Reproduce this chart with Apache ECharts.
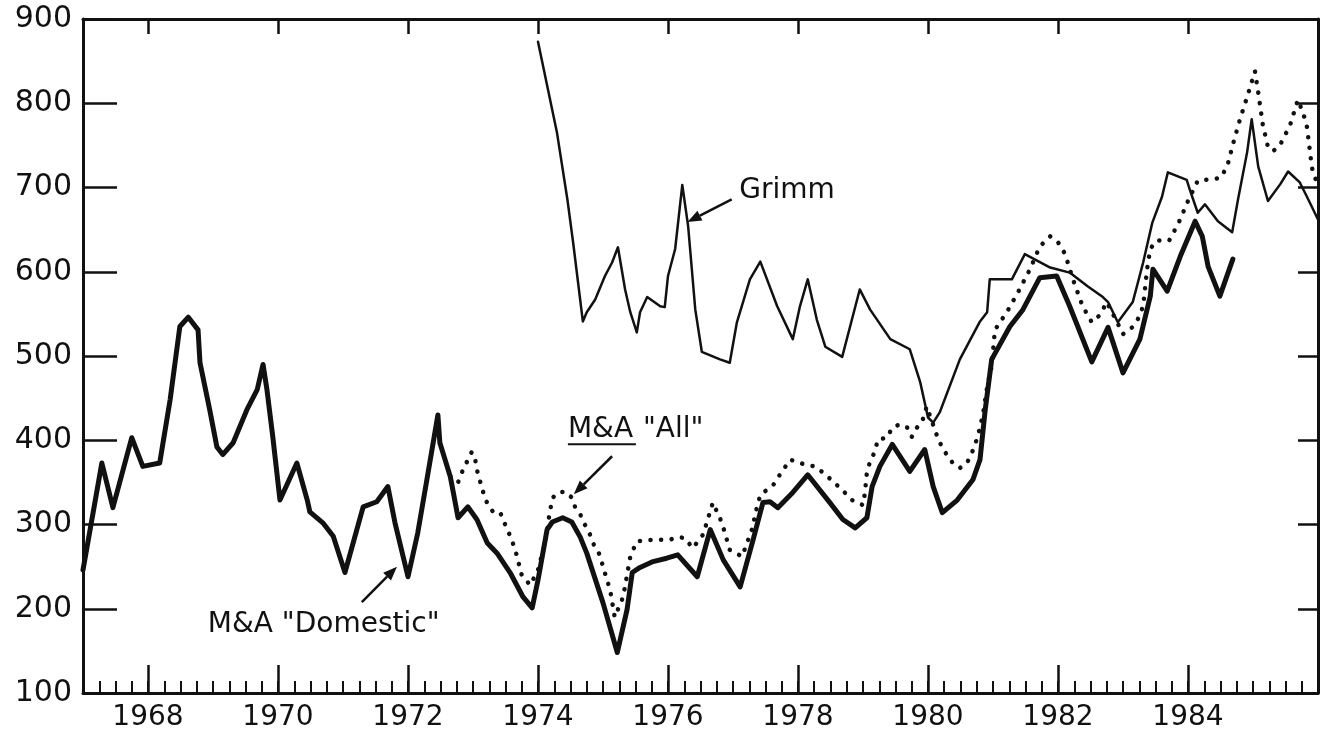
<!DOCTYPE html>
<html>
<head>
<meta charset="utf-8">
<script src="https://cdn.jsdelivr.net/npm/echarts@6/dist/echarts.min.js"></script>
<style>
html,body{margin:0;padding:0;background:#fff;}
#c{width:1321px;height:735px;}
</style>
</head>
<body>
<div id="c"></div>
<script>
// ---- data (year, value) ----
const yearLabels = [1968, 1970, 1972, 1974, 1976, 1978, 1980, 1982, 1984];
const yTicks = [100, 200, 300, 400, 500, 600, 700, 800, 900];

const domestic = [
  [1967.00,246],[1967.29,373],[1967.46,320],[1967.75,403],[1967.92,369],[1968.18,373],
  [1968.34,448],[1968.49,535],[1968.62,546],[1968.77,531],[1968.80,492],[1968.95,436],
  [1969.06,392],[1969.15,383],[1969.31,397],[1969.52,436],[1969.68,460],[1969.77,490],
  [1969.83,460],[1969.92,404],[1970.03,329],[1970.29,373],[1970.45,329],[1970.49,315],
  [1970.69,302],[1970.85,286],[1971.03,243],[1971.31,321],[1971.52,327],[1971.69,345],
  [1971.80,302],[1972.00,238],[1972.15,290],[1972.29,353],[1972.46,430],[1972.49,397],
  [1972.65,357],[1972.68,345],[1972.77,308],[1972.92,321],[1973.06,306],[1973.22,278],
  [1973.37,266],[1973.57,243],[1973.77,214],[1973.91,201],[1974.00,234],[1974.14,294],
  [1974.22,303],[1974.38,308],[1974.52,303],[1974.65,285],[1974.75,266],[1975.00,207],
  [1975.22,148],[1975.37,199],[1975.45,243],[1975.57,249],[1975.77,256],[1975.98,260],
  [1976.15,264],[1976.45,238],[1976.65,294],[1976.85,258],[1977.11,226],[1977.31,282],
  [1977.46,326],[1977.57,327],[1977.69,320],[1977.92,338],[1978.15,359],[1978.49,326],
  [1978.69,306],[1978.88,296],[1979.06,308],[1979.14,345],[1979.26,369],[1979.45,395],
  [1979.72,363],[1979.95,389],[1980.08,345],[1980.22,314],[1980.45,329],[1980.69,353],
  [1980.80,377],[1980.88,436],[1980.98,496],[1981.26,535],[1981.46,555],[1981.72,593],
  [1981.98,595],[1982.18,559],[1982.52,493],[1982.77,534],[1983.00,480],[1983.26,520],
  [1983.42,571],[1983.46,603],[1983.68,577],[1983.88,618],[1984.11,660],[1984.22,642],
  [1984.31,606],[1984.49,571],[1984.69,615]
];

const allMA = [
  [1972.65,357],[1972.77,350],[1972.83,362],[1972.91,375],[1972.98,386],[1973.03,379],
  [1973.06,365],[1973.11,351],[1973.17,335],[1973.23,323],[1973.32,314],[1973.42,314],
  [1973.51,297],[1973.58,285],[1973.65,270],[1973.75,240],[1973.88,228],[1974.00,246],
  [1974.06,264],[1974.11,278],[1974.15,297],[1974.18,315],[1974.23,332],[1974.31,338],
  [1974.42,339],[1974.52,332],[1974.57,321],[1974.65,312],[1974.72,300],[1974.80,288],
  [1974.86,276],[1974.95,264],[1975.00,250],[1975.11,222],[1975.18,190],[1975.31,214],
  [1975.42,262],[1975.52,280],[1975.77,282],[1976.03,282],[1976.15,285],[1976.26,284],
  [1976.38,272],[1976.54,288],[1976.69,326],[1976.83,302],[1976.95,270],[1977.14,262],
  [1977.29,294],[1977.37,321],[1977.42,335],[1977.62,347],[1977.72,359],[1977.88,377],
  [1978.11,371],[1978.26,369],[1978.38,362],[1978.54,351],[1978.68,341],[1978.83,329],
  [1979.00,323],[1979.03,338],[1979.06,362],[1979.11,375],[1979.18,386],[1979.23,401],
  [1979.37,403],[1979.45,415],[1979.57,419],[1979.68,415],[1979.75,404],[1979.83,415],
  [1979.91,422],[1979.98,440],[1980.14,405],[1980.23,389],[1980.31,381],[1980.38,373],
  [1980.49,367],[1980.60,373],[1980.68,386],[1980.75,401],[1980.80,415],[1980.85,433],
  [1980.91,463],[1980.98,488],[1981.03,531],[1981.22,553],[1981.38,575],[1981.57,603],
  [1981.72,630],[1981.88,642],[1982.00,635],[1982.11,621],[1982.23,591],[1982.38,559],
  [1982.52,540],[1982.65,549],[1982.75,564],[1982.91,540],[1983.00,526],[1983.14,534],
  [1983.23,544],[1983.31,559],[1983.37,603],[1983.42,627],[1983.51,637],[1983.71,637],
  [1983.78,647],[1983.88,662],[1984.00,684],[1984.15,708],[1984.49,711],[1984.60,724],
  [1984.69,751],[1984.80,781],[1984.92,810],[1985.03,838],[1985.08,813],[1985.15,775],
  [1985.23,748],[1985.31,743],[1985.42,751],[1985.57,774],[1985.69,804],[1985.77,789],
  [1985.83,772],[1985.89,734],[1985.92,718],[1985.98,707]
];

const grimm = [
  [1974.00,873],[1974.29,766],[1974.45,687],[1974.54,635],[1974.69,541],[1974.75,552],
  [1974.88,567],[1975.03,595],[1975.14,611],[1975.23,629],[1975.34,579],[1975.42,552],
  [1975.52,528],[1975.57,552],[1975.68,570],[1975.88,559],[1975.95,558],[1976.00,595],
  [1976.11,627],[1976.22,703],[1976.31,654],[1976.34,627],[1976.42,555],[1976.52,505],
  [1976.80,496],[1976.95,492],[1977.06,540],[1977.26,591],[1977.42,612],[1977.68,559],
  [1977.92,520],[1978.03,559],[1978.15,591],[1978.29,543],[1978.42,511],[1978.68,499],
  [1978.95,579],[1979.11,555],[1979.42,520],[1979.72,508],[1979.88,469],[1980.00,427],
  [1980.08,421],[1980.18,433],[1980.49,496],[1980.80,541],[1980.91,552],[1980.95,591],
  [1981.29,591],[1981.49,621],[1981.88,605],[1982.18,599],[1982.45,583],[1982.69,570],
  [1982.77,564],[1982.92,540],[1983.15,564],[1983.31,611],[1983.45,658],[1983.60,689],
  [1983.69,718],[1983.98,709],[1984.03,697],[1984.15,670],[1984.26,680],[1984.46,660],
  [1984.68,647],[1984.77,686],[1984.91,742],[1984.98,781],[1985.08,725],[1985.23,684],
  [1985.42,704],[1985.54,719],[1985.72,706],[1985.83,689],[1986.00,662]
];

// annotation anchors in data coordinates
const annGrimm = {text:'Grimm', at:[1977.83, 696], from:[1976.98, 686], to:[1976.30, 659]};
const annAll = {text:'"All"', lead:'M&A', at:[1974.46, 413], from:[1975.14, 381], to:[1974.55, 336]};
const annDom = {text:'M&A "Domestic"', at:[1968.92, 181], from:[1971.29, 208], to:[1971.83, 250]};

// ---- chart ----
const FONT = '"DejaVu Sans", sans-serif';
const INK = '#111';
const chart = echarts.init(document.getElementById('c'), null, {renderer:'canvas'});

const axisCommon = {type:'value', min:1967, max:1986, splitLine:{show:false}};
const option = {
  backgroundColor:'#fff',
  animation:false,
  grid:{left:83, right:3, top:19, bottom:42, containLabel:false},
  xAxis:[
    Object.assign({}, axisCommon, {
      position:'bottom', interval:0.25,
      axisLine:{show:true, onZero:false, lineStyle:{color:INK, width:3}},
      axisTick:{show:true, inside:true, length:12, lineStyle:{color:INK, width:2}},
      axisLabel:{show:true, customValues:yearLabels, color:INK, fontFamily:FONT, fontSize:28, margin:11,
        formatter:v=>String(Math.round(v))}
    }),
    Object.assign({}, axisCommon, {
      position:'bottom',
      axisLine:{show:false, onZero:false},
      axisTick:{show:true, inside:true, length:28, customValues:yearLabels, lineStyle:{color:INK, width:2.5}},
      axisLabel:{show:false}
    }),
    Object.assign({}, axisCommon, {
      position:'top',
      axisLine:{show:true, onZero:false, lineStyle:{color:INK, width:3}},
      axisTick:{show:true, inside:true, length:15, customValues:yearLabels, lineStyle:{color:INK, width:2.5}},
      axisLabel:{show:false}
    })
  ],
  yAxis:[
    {type:'value', position:'left', min:100, max:900, interval:100, splitLine:{show:false},
     axisLine:{show:true, onZero:false, lineStyle:{color:INK, width:3}},
     axisTick:{show:true, inside:true, length:34, lineStyle:{color:INK, width:2.5}},
     axisLabel:{show:true, customValues:yTicks, color:INK, fontFamily:FONT, fontSize:30, margin:11}},
    {type:'value', position:'right', min:100, max:900, interval:100, splitLine:{show:false},
     axisLine:{show:true, onZero:false, lineStyle:{color:INK, width:3}},
     axisTick:{show:true, inside:true, length:20, lineStyle:{color:INK, width:2.5}},
     axisLabel:{show:false}}
  ],
  series:[
    {name:'M&A "All"', type:'line', data:allMA, xAxisIndex:0, yAxisIndex:0, showSymbol:false, z:3,
     lineStyle:{color:INK, width:4.5, type:[0.1, 10.5], cap:'round', join:'round'}},
    {name:'Grimm', type:'line', data:grimm, xAxisIndex:0, yAxisIndex:0, showSymbol:false, z:4,
     lineStyle:{color:INK, width:2.5, join:'round', cap:'round'}},
    {name:'M&A "Domestic"', type:'line', data:domestic, xAxisIndex:0, yAxisIndex:0, showSymbol:false, z:5,
     lineStyle:{color:INK, width:5, join:'round', cap:'round'}}
  ]
};
chart.setOption(option);

// ---- annotations (text + arrows), placed through the axes' own scales ----
function px(p){ return chart.convertToPixel({xAxisIndex:0, yAxisIndex:0}, p); }
function arrow(fromD, toD){
  const a = px(fromD), b = px(toD);
  const dx = b[0]-a[0], dy = b[1]-a[1], L = Math.hypot(dx, dy);
  const ux = dx/L, uy = dy/L, hl = 14, hw = 5.5;
  const bx = b[0]-ux*hl, by = b[1]-uy*hl;
  return [
    {type:'line', z:10, shape:{x1:a[0], y1:a[1], x2:bx, y2:by}, style:{stroke:INK, lineWidth:2.5}},
    {type:'polygon', z:10, shape:{points:[[b[0],b[1]],[bx-uy*hw, by+ux*hw],[bx+uy*hw, by-ux*hw]]}, style:{fill:INK}}
  ];
}
const ANNFONT = '28px ' + FONT;
const g = [];
let p = px(annGrimm.at);
g.push({type:'text', z:10, style:{text:annGrimm.text, x:p[0], y:p[1], font:ANNFONT, fill:INK, textAlign:'center', textVerticalAlign:'middle'}});
g.push(...arrow(annGrimm.from, annGrimm.to));

p = px(annAll.at);
g.push({type:'text', z:10, style:{text:annAll.lead, x:p[0], y:p[1], font:ANNFONT, fill:INK, textAlign:'left', textVerticalAlign:'middle'}});
g.push({type:'line', z:10, shape:{x1:p[0], y1:p[1]+15, x2:p[0]+68, y2:p[1]+15}, style:{stroke:INK, lineWidth:2}});
g.push({type:'text', z:10, style:{text:annAll.text, x:p[0]+75, y:p[1], font:ANNFONT, fill:INK, textAlign:'left', textVerticalAlign:'middle'}});
g.push(...arrow(annAll.from, annAll.to));

p = px(annDom.at);
g.push({type:'text', z:10, style:{text:annDom.text, x:p[0], y:p[1], font:ANNFONT, fill:INK, textAlign:'left', textVerticalAlign:'middle'}});
g.push(...arrow(annDom.from, annDom.to));

chart.setOption({graphic:g});
</script>
</body>
</html>
